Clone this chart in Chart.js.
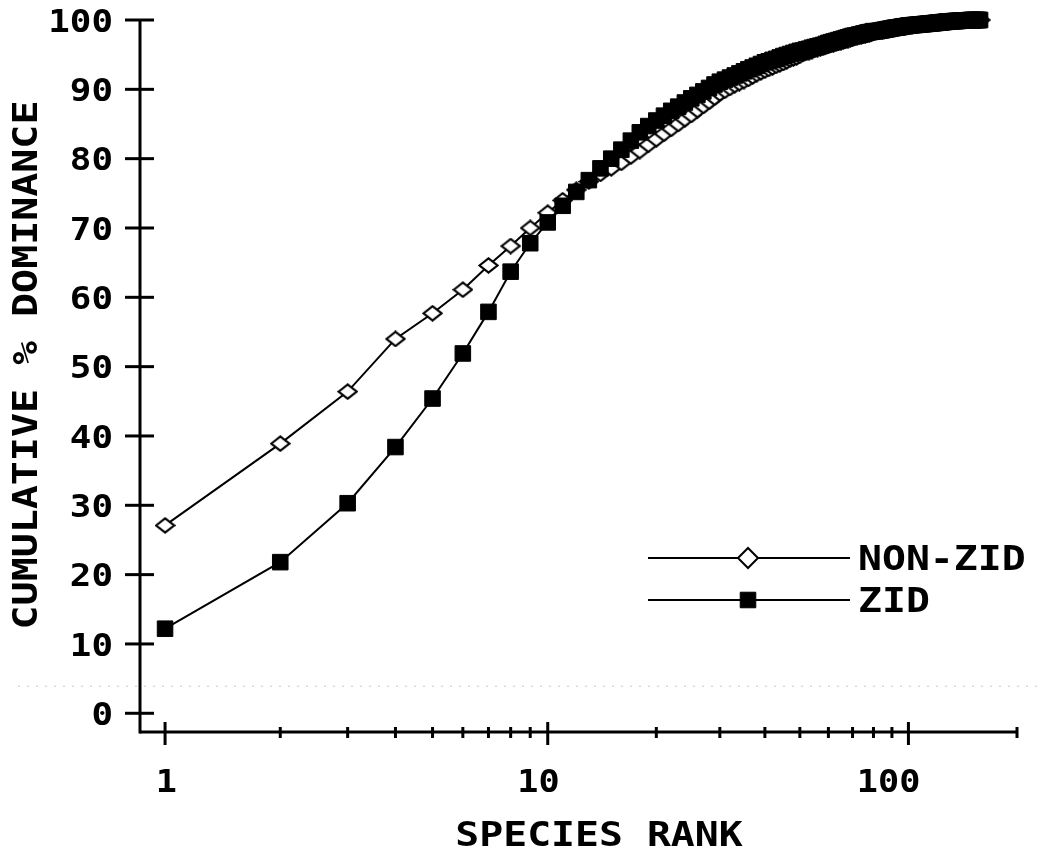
<!DOCTYPE html>
<html>
<head>
<meta charset="utf-8">
<script src="https://cdn.jsdelivr.net/npm/chart.js@4"></script>
<style>
  html, body { margin: 0; padding: 0; background: #fff; }
  #wrap { width: 1050px; height: 853px; }
</style>
</head>
<body>
<div id="wrap"><canvas id="rank-chart"></canvas></div>
<script>
/*
 * Data
**/
const seriesNames = ['NON-ZID', 'ZID']
const yTicks = [0, 10, 20, 30, 40, 50, 60, 70, 80, 90, 100]
const xMajorTicks = [1, 10, 100]
const xMinorTicks = [2, 3, 4, 5, 6, 7, 8, 9, 20, 30, 40, 50, 60, 70, 80, 90, 200]
const xTitle = 'SPECIES RANK'
const yTitle = 'CUMULATIVE % DOMINANCE'

// cumulative % dominance for species rank 1, 2, 3 ...
const nonZid = [
  27.1, 38.9, 46.4, 54.0, 57.7, 61.1, 64.6, 67.4, 70.0, 72.2,
  74.0, 75.5, 76.7, 77.8, 78.6, 79.4, 80.3, 81.1, 82.0, 82.8,
  83.6, 84.3, 85.0, 85.7, 86.3, 87.0, 87.6, 88.2, 88.8, 89.4,
  89.8, 90.2, 90.6, 90.9, 91.2, 91.5, 91.85, 92.2, 92.45, 92.7,
  92.95, 93.15, 93.4, 93.6, 93.8, 94.05, 94.3, 94.45, 94.6, 94.85,
  95.1, 95.25, 95.35, 95.5, 95.7, 95.8, 95.9, 96.0, 96.15, 96.3,
  96.4, 96.5, 96.6, 96.7, 96.8, 96.9, 97.0, 97.1, 97.2, 97.3,
  97.45, 97.5, 97.6, 97.65, 97.75, 97.8, 97.9, 97.95, 98.1, 98.2,
  98.35, 98.4, 98.45, 98.5, 98.55, 98.6, 98.65, 98.7, 98.75, 98.8,
  98.85, 98.9, 98.9, 98.95, 99.0, 99.05, 99.1, 99.1, 99.15, 99.2,
  99.22, 99.24, 99.26, 99.28, 99.3, 99.32, 99.34, 99.36, 99.38, 99.4,
  99.42, 99.44, 99.46, 99.48, 99.5, 99.52, 99.54, 99.56, 99.58, 99.6,
  99.62, 99.64, 99.66, 99.68, 99.7, 99.72, 99.74, 99.76, 99.78, 99.8,
  99.81, 99.82, 99.83, 99.84, 99.85, 99.86, 99.87, 99.88, 99.89, 99.9,
  99.91, 99.92, 99.93, 99.94, 99.95, 99.96, 99.97, 99.98, 99.99, 100,
  100, 100, 100, 100, 100, 100, 100, 100
]

const zid = [
  12.2, 21.8, 30.3, 38.4, 45.4, 51.9, 57.9, 63.7, 67.8, 70.8,
  73.2, 75.2, 76.9, 78.6, 80.0, 81.3, 82.6, 83.8, 84.7, 85.5,
  86.2, 86.9, 87.5, 88.1, 88.7, 89.2, 89.7, 90.2, 90.7, 91.1,
  91.4, 91.7, 92.0, 92.3, 92.6, 92.9, 93.15, 93.4, 93.65, 93.9,
  94.05, 94.25, 94.4, 94.6, 94.8, 94.95, 95.1, 95.25, 95.4, 95.55,
  95.6, 95.75, 95.85, 96.0, 96.1, 96.2, 96.3, 96.4, 96.55, 96.7,
  96.8, 96.9, 97.0, 97.1, 97.2, 97.3, 97.4, 97.5, 97.6, 97.7,
  97.75, 97.8, 97.9, 97.95, 98.05, 98.1, 98.2, 98.25, 98.3, 98.4,
  98.35, 98.4, 98.45, 98.5, 98.55, 98.6, 98.65, 98.7, 98.75, 98.8,
  98.85, 98.9, 98.9, 98.95, 99.0, 99.05, 99.1, 99.1, 99.15, 99.2,
  99.22, 99.24, 99.26, 99.28, 99.3, 99.32, 99.34, 99.36, 99.38, 99.4,
  99.42, 99.44, 99.46, 99.48, 99.5, 99.52, 99.54, 99.56, 99.58, 99.6,
  99.62, 99.64, 99.66, 99.68, 99.7, 99.72, 99.74, 99.76, 99.78, 99.8,
  99.81, 99.82, 99.83, 99.84, 99.85, 99.86, 99.87, 99.88, 99.89, 99.9,
  99.91, 99.92, 99.93, 99.94, 99.95, 99.96, 99.97, 99.98, 99.99, 100,
  100, 100, 100, 100, 100, 100, 100, 100
]

const FONT = '"DejaVu Sans Mono", "Liberation Mono", monospace'

/*
 * Log axis of the old plot: the first decade is drawn a bit wider than the next ones
**/
const warp = (v) => {
  const t = Math.log10(v)
  return t <= 1 ? t * 383 : 383 + (t - 1) * 361
}

class RankScale extends Chart.LogarithmicScale {
  static id = 'rank'
  static defaults = Chart.LogarithmicScale.defaults

  getPixelForValue(value) {
    const a = warp(this.min)
    const b = warp(this.max)
    return this.getPixelForDecimal((warp(value) - a) / (b - a))
  }
}
Chart.register(RankScale)

const toPoints = (values) => values.map((v, i) => ({ x: i + 1, y: v }))

// open diamond, a little wider than tall
function diamondMarker(w, h) {
  const c = document.createElement('canvas')
  c.width = w
  c.height = h
  const g = c.getContext('2d')
  g.beginPath()
  g.moveTo(1.5, h / 2)
  g.lineTo(w / 2, 1.5)
  g.lineTo(w - 1.5, h / 2)
  g.lineTo(w / 2, h - 1.5)
  g.closePath()
  g.fillStyle = '#fff'
  g.fill()
  g.lineWidth = 2.2
  g.strokeStyle = '#000'
  g.stroke()
  return c
}
const diamond = diamondMarker(21, 17)

// stretched bold mono text, y is the middle of the capitals
function drawText(ctx, text, x, y, size, sx, align, rotate) {
  ctx.save()
  ctx.font = `bold ${size}px ${FONT}`
  ctx.fillStyle = '#000'
  ctx.textAlign = align
  ctx.textBaseline = 'alphabetic'
  ctx.translate(x, y)
  if (rotate) ctx.rotate(-Math.PI / 2)
  ctx.scale(sx, 1)
  ctx.fillText(text, 0, size * 0.729 / 2)
  ctx.restore()
}

function line(ctx, x1, y1, x2, y2, w) {
  ctx.beginPath()
  ctx.lineWidth = w
  ctx.moveTo(x1, y1)
  ctx.lineTo(x2, y2)
  ctx.stroke()
}

const axesPlugin = {
  id: 'oldAxes',
  beforeDatasetsDraw(chart) {
    const { ctx, chartArea, scales: { x, y } } = chart
    const left = chartArea.left
    const bottom = chartArea.bottom

    ctx.save()
    // faint scan streak
    ctx.strokeStyle = '#c8c8c8'
    ctx.setLineDash([2, 7])
    line(ctx, 18, y.getPixelForValue(3.9), 1040, y.getPixelForValue(3.9), 1)
    ctx.setLineDash([])

    ctx.strokeStyle = '#000'
    ctx.lineCap = 'butt'
    line(ctx, left, chartArea.top, left, bottom + 1.5, 3)
    line(ctx, left, bottom, chartArea.right + 1, bottom, 3)

    yTicks.forEach((v) => {
      const py = y.getPixelForValue(v)
      line(ctx, left - 15, py, left + 14, py, 3)
      drawText(ctx, String(v), 113, py, 32, 1.12, 'right')
    })
    xMajorTicks.forEach((v) => {
      const px = x.getPixelForValue(v)
      line(ctx, px, bottom - 10, px, bottom + 13, 3)
      drawText(ctx, String(v), px + 12, bottom + 48, 32, 1.1, 'right')
    })
    xMinorTicks.forEach((v) => {
      const px = x.getPixelForValue(v)
      line(ctx, px, bottom - 5, px, bottom + 6, 3)
    })

    drawText(ctx, xTitle, 599, 834, 34, 1.17, 'center')
    drawText(ctx, yTitle, 25, 365, 33, 1.21, 'center', true)
    ctx.restore()
  },
  afterDatasetsDraw(chart) {
    const { ctx } = chart
    const rows = [
      { y: 558, style: 'rectRot', radius: 10, fill: '#fff', border: 2 },
      { y: 600, style: 'rect', radius: 11, fill: '#000', border: 1 }
    ]
    ctx.save()
    ctx.strokeStyle = '#000'
    rows.forEach((row, i) => {
      line(ctx, 648, row.y, 850, row.y, 2)
      ctx.fillStyle = row.fill
      ctx.strokeStyle = '#000'
      ctx.lineWidth = row.border
      Chart.helpers.drawPoint(ctx, { pointStyle: row.style, radius: row.radius, borderWidth: row.border }, 748, row.y)
      drawText(ctx, seriesNames[i], 858, row.y, 34, 1.17, 'left')
    })
    ctx.restore()
  }
}

const config = {
  type: 'line',
  data: {
    datasets: [
      {
        label: seriesNames[0],
        data: toPoints(nonZid),
        borderColor: '#000',
        borderWidth: 2,
        pointStyle: diamond,
        pointRadius: 10,
        tension: 0,
        clip: false,
        order: 1
      },
      {
        label: seriesNames[1],
        data: toPoints(zid),
        borderColor: '#000',
        borderWidth: 2,
        pointStyle: 'rect',
        pointRadius: 11,
        pointBorderWidth: 1,
        pointBackgroundColor: '#000',
        pointBorderColor: '#000',
        tension: 0,
        clip: false,
        order: 0
      }
    ]
  },
  options: {
    responsive: true,
    maintainAspectRatio: false,
    animation: false,
    layout: { padding: { top: 20, right: 33, left: 0, bottom: 0 } },
    plugins: { legend: { display: false }, tooltip: { enabled: false } },
    scales: {
      x: {
        type: 'rank',
        min: 0.86,
        max: 200,
        ticks: { display: false },
        grid: { display: false },
        border: { display: false },
        afterFit: (s) => { s.height = 121 }
      },
      y: {
        type: 'linear',
        min: -2.7,
        max: 100,
        ticks: { display: false },
        grid: { display: false },
        border: { display: false },
        afterFit: (s) => { s.width = 140 }
      }
    }
  },
  plugins: [axesPlugin]
}

new Chart(document.getElementById('rank-chart'), config)
</script>
</body>
</html>
